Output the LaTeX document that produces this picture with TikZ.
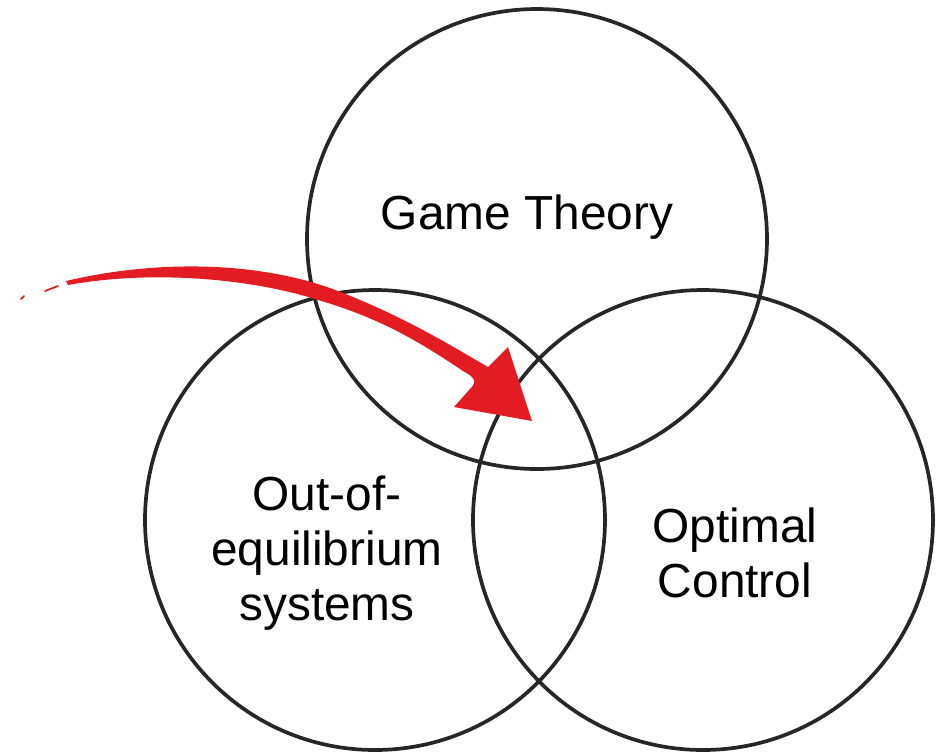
\documentclass[tikz,border=0pt]{standalone}
\usepackage{fontspec}
\setmainfont{Liberation Sans}
\usepackage{tikz}
\definecolor{arrowred}{HTML}{E31B23}

\begin{document}
\begin{tikzpicture}[x=0.01cm,y=-0.01cm,every node/.style={font=\fontsize{13.6}{15.6}\selectfont,align=center}]
\useasboundingbox (0,0) rectangle (947,753);
% three sets
\draw[line width=1.05pt,black!85] (537,239) circle[radius=230];
\draw[line width=1.05pt,black!85] (375,520) circle[radius=230];
\draw[line width=1.05pt,black!85] (703,520) circle[radius=230];
\node (game) at (527,217) {Game Theory};
\node (ooe) at (327,553) {Out-of-\\equilibrium\\systems};
\node (oc) at (735,553) {Optimal\\Control};
% red arrow into the middle
\draw[arrowred,line width=0.5pt,line cap=round] (21,299)--(24,296) (45,291)--(58,286);
\fill[arrowred] (66,281) .. controls (150,261) and (250,260) .. (330,288)
  .. controls (400,314) and (450,345) .. (488,367) -- (508,347) -- (532,421) -- (454,407)
  -- (470,389) .. controls (478,381) and (474,377) .. (463,371)
  .. controls (420,342) and (380,318) .. (318,300)
  .. controls (250,278) and (150,270) .. (68,285) -- cycle;
\end{tikzpicture}
\end{document}
